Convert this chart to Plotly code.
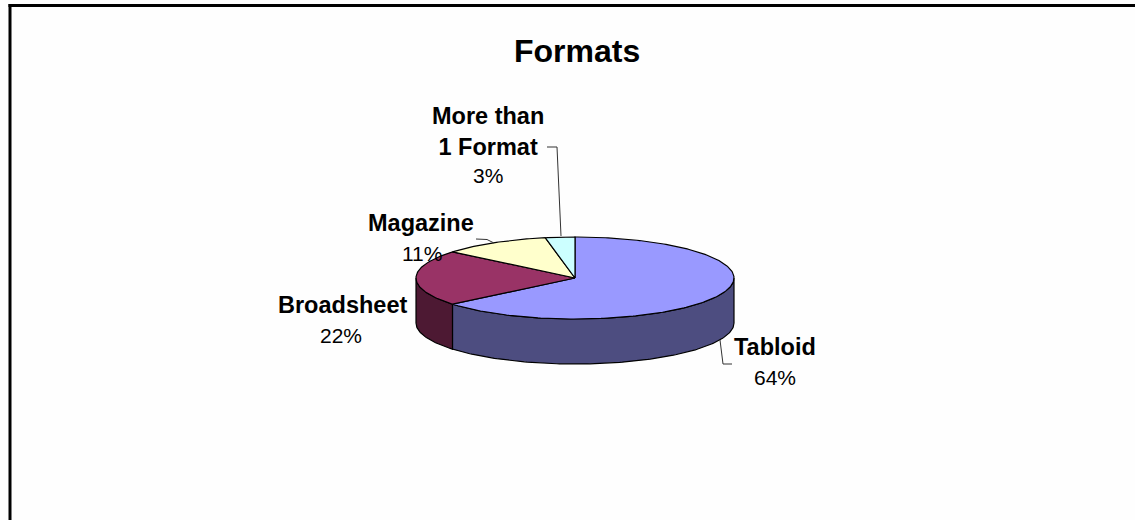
import numpy as np
import plotly.graph_objects as go

# Chart data
title = "Formats"
categories = ["Tabloid", "Broadsheet", "Magazine", "More than<br>1 Format"]
shares = [64, 22, 11, 3]
top_colors = ["#9999FF", "#993366", "#FFFFCC", "#CCFFFF"]
side_colors = ["#4D4D80", "#4D1933", "#80805F", "#5F8080"]

# Pie geometry in canvas pixels
CX, CY = 575, 278
RX, RY = 159, 41
DEPTH = 45


def rim(start, stop, drop=0.0):
    """Points on the ellipse, angles in degrees clockwise from 12 o'clock."""
    n = max(2, int(abs(stop - start)) + 2)
    t = np.radians(np.linspace(start, stop, n))
    return CX + RX * np.sin(t), CY - RY * np.cos(t) + drop


fig = go.Figure()

edges = np.cumsum([0] + shares) / sum(shares) * 360

# Outer wall: only the arc between 90 and 270 degrees faces the viewer
for i in range(len(shares)):
    a, b = max(edges[i], 90), min(edges[i + 1], 270)
    if a >= b:
        continue
    xt, yt = rim(a, b)
    xb, yb = rim(b, a, DEPTH)
    fig.add_trace(go.Scatter(
        x=np.r_[xt, xb, xt[:1]], y=np.r_[yt, yb, yt[:1]],
        mode="lines", fill="toself", fillcolor=side_colors[i],
        line=dict(color="#000000", width=1.2), hoverinfo="skip", showlegend=False,
    ))

# Top face
for i in range(len(shares)):
    xs, ys = rim(edges[i], edges[i + 1])
    fig.add_trace(go.Scatter(
        x=np.r_[CX, xs, CX], y=np.r_[CY, ys, CY],
        mode="lines", fill="toself", fillcolor=top_colors[i],
        line=dict(color="#000000", width=1.2), hoverinfo="skip", showlegend=False,
    ))

# Leader lines from the labels to their slices
leaders = [
    ([720, 723, 732], [340, 364, 364]),
    ([494, 487, 476], [243, 239.5, 239]),
    ([547, 557, 561], [147, 147, 236]),
]
for lx, ly in leaders:
    fig.add_trace(go.Scatter(
        x=lx, y=ly, mode="lines", line=dict(color="#333333", width=1),
        hoverinfo="skip", showlegend=False,
    ))

# Slice labels: name in bold, share underneath
name_font = dict(family="Liberation Sans, Arial, sans-serif", size=23.5, color="#000000")
pct_font = dict(family="Liberation Sans, Arial, sans-serif", size=21, color="#000000")
name_anchor = [(775, 347), (342, 305), (421, 223), (488, 131)]
pct_anchor = [(775, 377), (341, 335), (422, 253), (488, 175)]
annotations = []
for name, share, (nx, ny), (px, py) in zip(categories, shares, name_anchor, pct_anchor):
    annotations.append(dict(
        x=nx, y=ny, text="<b>" + name + "</b>", showarrow=False, font=name_font,
        xanchor="center", yanchor="middle", xref="x", yref="y", align="center",
    ))
    annotations.append(dict(
        x=px, y=py, text=f"{share}%", showarrow=False, font=pct_font,
        xanchor="center", yanchor="middle", xref="x", yref="y",
    ))
annotations.append(dict(
    x=577, y=51, text="<b>" + title + "</b>", showarrow=False,
    font=dict(family="Liberation Sans, Arial, sans-serif", size=32, color="#000000"),
    xanchor="center", yanchor="middle", xref="x", yref="y",
))

# Chart frame: the top and left edges are the ones inside the canvas
frame = [
    dict(type="line", x0=8.5, x1=1135, y0=5.5, y1=5.5, xref="x", yref="y",
         line=dict(color="#000000", width=3)),
    dict(type="line", x0=10, x1=10, y0=4, y1=520, xref="x", yref="y",
         line=dict(color="#000000", width=3)),
]

fig.update_layout(
    width=1135, height=520, autosize=False,
    margin=dict(l=0, r=0, t=0, b=0),
    paper_bgcolor="#FEFEFE", plot_bgcolor="#FEFEFE",
    xaxis=dict(range=[0, 1135], visible=False, fixedrange=True),
    yaxis=dict(range=[520, 0], visible=False, fixedrange=True),
    annotations=annotations, shapes=frame, showlegend=False,
)

fig.write_html("out.html", config={"displayModeBar": False})
